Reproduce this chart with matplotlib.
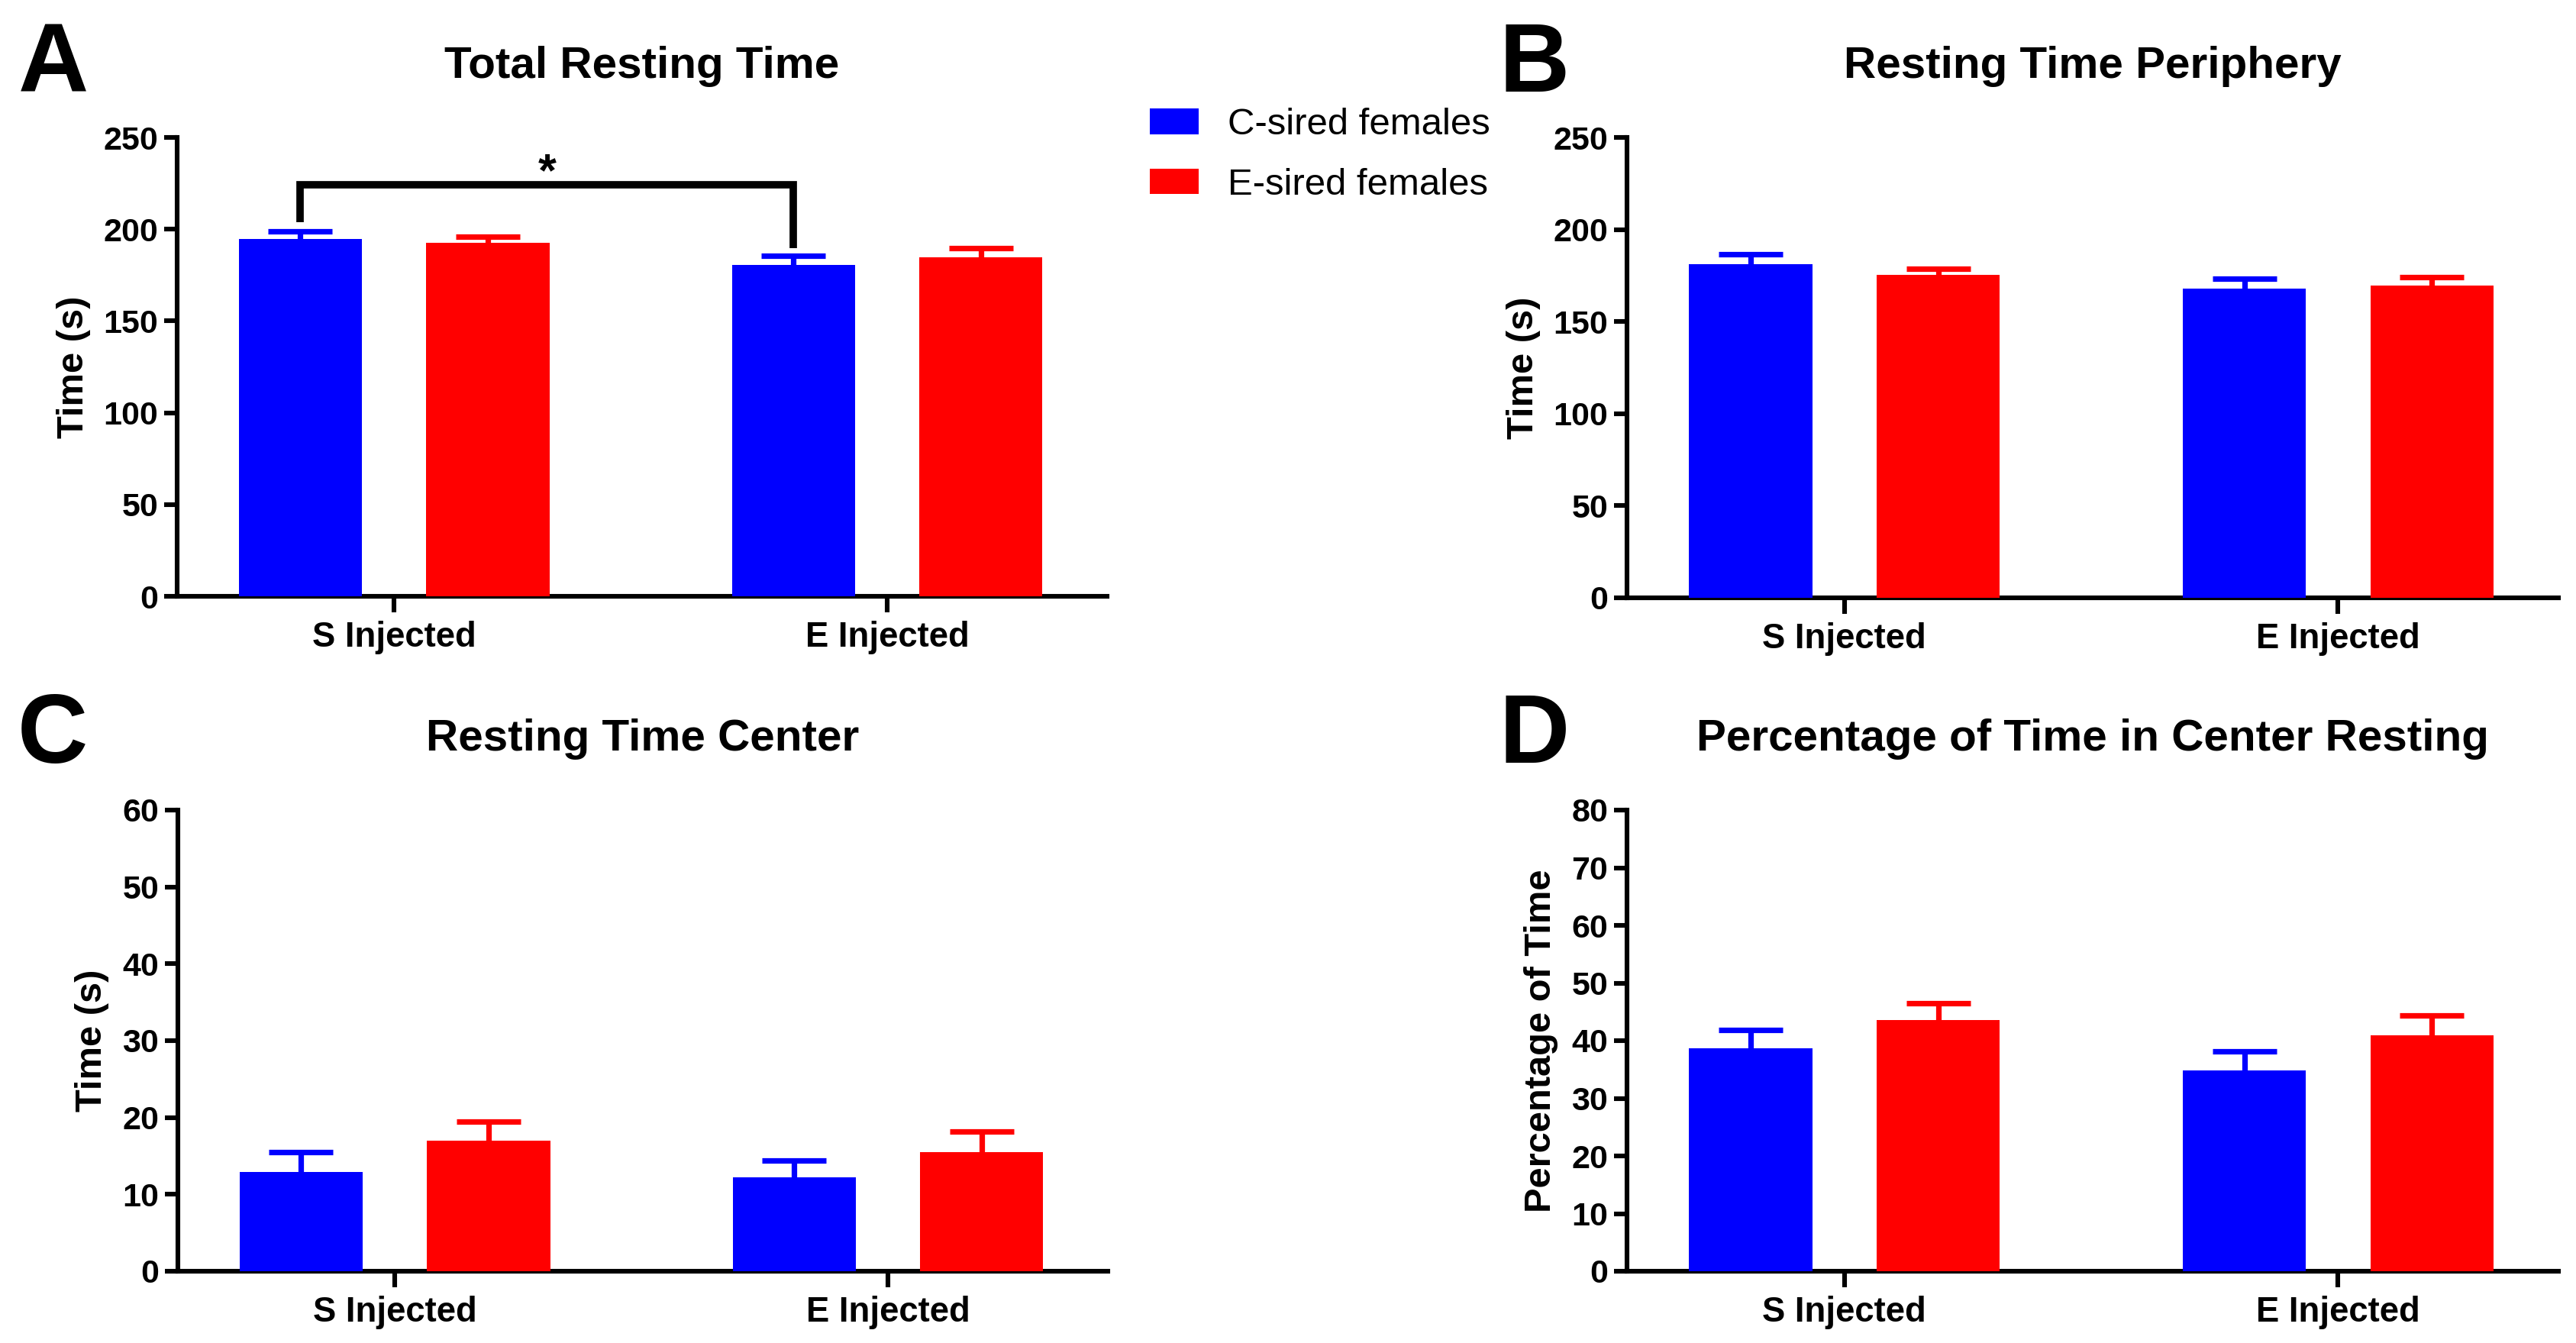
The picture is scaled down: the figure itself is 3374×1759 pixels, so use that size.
import matplotlib
matplotlib.use("Agg")
import matplotlib.pyplot as plt
import numpy as np

plt.rcParams['font.family'] = ['Liberation Sans', 'DejaVu Sans']

# ---- data ----
groups = ["S Injected", "E Injected"]
series_names = ["C-sired females", "E-sired females"]
colors = ["#0000FF", "#FF0000"]

titles = ["Total Resting Time", "Resting Time Periphery",
          "Resting Time Center", "Percentage of Time in Center Resting"]
ylabels = ["Time (s)", "Time (s)", "Time (s)", "Percentage of Time"]
letters = ["A", "B", "C", "D"]

# mean values (blue series, red series) per panel
a_blue = [194.5, 180.5]
a_blue_err = [4.2, 4.9]
a_red = [192.5, 184.6]
a_red_err = [3.3, 4.9]

b_blue = [181.0, 168.0]
b_blue_err = [5.4, 5.1]
b_red = [175.2, 169.4]
b_red_err = [3.3, 4.9]

c_blue = [12.9, 12.2]
c_blue_err = [2.6, 2.2]
c_red = [17.0, 15.5]
c_red_err = [2.5, 2.7]

d_blue = [38.7, 34.8]
d_blue_err = [3.1, 3.3]
d_red = [43.6, 40.9]
d_red_err = [2.9, 3.5]

ymax = [250, 250, 60, 80]
ystep = [50, 50, 10, 10]

# significance bracket in panel A
sig_left_bottom = 203.7
sig_top = 224.3
sig_right_bottom = 189.7
sig_label = "*"

panels = [
    (a_blue, a_blue_err, a_red, a_red_err),
    (b_blue, b_blue_err, b_red, b_red_err),
    (c_blue, c_blue_err, c_red, c_red_err),
    (d_blue, d_blue_err, d_red, d_red_err),
]

W, H = 3374, 1759
DPI = 200
fig = plt.figure(figsize=(W / DPI, H / DPI), dpi=DPI)

# axes rectangles in pixels: left, right, top, bottom
rects_px = [
    (232, 1450, 180, 781),
    (2131, 3351, 180, 783),
    (233, 1451, 1061, 1665),
    (2131, 3351, 1061, 1665),
]
letter_pos = [(24, 120), (1963, 120), (23, 999), (1963, 999)]

bar_w = 0.25
offset = 0.19
x = np.arange(len(groups))
lw = 2.2

axes = []
for i, (l, r, t, b) in enumerate(rects_px):
    ax = fig.add_axes([l / W, 1 - b / H, (r - l) / W, (b - t) / H])
    axes.append(ax)
    blue, blue_err, red, red_err = panels[i]
    bars = []
    for j, (vals, errs) in enumerate([(blue, blue_err), (red, red_err)]):
        xs = x + (-offset if j == 0 else offset)
        bc = ax.bar(xs, vals, width=bar_w, color=colors[j], edgecolor='none',
                    zorder=3, label=series_names[j])
        bars.append(bc)
        eb = ax.errorbar(xs, vals, yerr=[np.zeros(len(vals)), errs], fmt='none',
                         ecolor=colors[j], elinewidth=2.6, capsize=15,
                         capthick=2.6, zorder=2)
        # remove the lower caps (they sit on the bar tops)
        for cl in eb[1]:
            yd = np.asarray(cl.get_ydata())
            if np.allclose(yd, np.asarray(vals)):
                cl.set_visible(False)
    ax.set_xlim(-0.44, 1.446)
    ax.set_ylim(0, ymax[i])
    ax.set_yticks(np.arange(0, ymax[i] + 1, ystep[i]))
    ax.set_xticks(x)
    ax.set_xticklabels(groups)
    for s in ['top', 'right']:
        ax.spines[s].set_visible(False)
    for s in ['left', 'bottom']:
        ax.spines[s].set_linewidth(lw)
    ax.tick_params(axis='y', direction='out', length=6, width=lw, pad=3,
                   labelsize=15.5)
    ax.tick_params(axis='x', direction='out', length=7.5, width=lw, pad=4,
                   labelsize=16.4)
    for lab in ax.get_xticklabels() + ax.get_yticklabels():
        lab.set_fontweight('bold')
    ax.set_title(titles[i], fontsize=21, fontweight='bold', pad=28)
    ax.set_ylabel(ylabels[i], fontsize=17.6, fontweight='bold', labelpad=6)
    lx, ly = letter_pos[i]
    fig.text(lx / W, 1 - ly / H, letters[i], fontsize=46, fontweight='bold',
             ha='left', va='baseline')
    if i == 0:
        legend_handles = bars

# significance bracket on panel A
axA = axes[0]
xl = x[0] - offset
xr = x[1] - offset
axA.plot([xl, xl, xr, xr], [sig_left_bottom, sig_top, sig_top, sig_right_bottom],
         color='black', lw=3.5, solid_joinstyle='miter', solid_capstyle='butt',
         zorder=4, clip_on=False)
axA.text((xl + xr) / 2, sig_top - 6, sig_label, ha='center', va='bottom',
         fontsize=22, fontweight='bold')

fig.legend(legend_handles, series_names, loc='center left',
           bbox_to_anchor=(1506 / W, 1 - 203 / H), frameon=False,
           fontsize=17.7, handlelength=1.3, handleheight=0.66,
           handletextpad=0.78, labelspacing=0.68, borderpad=0,
           borderaxespad=0)

fig.savefig("out.png", dpi=DPI)
